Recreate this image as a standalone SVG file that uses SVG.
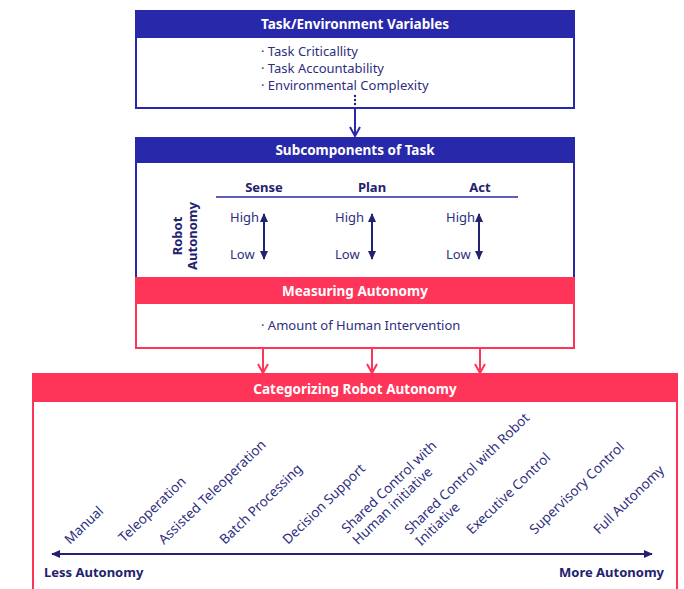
<svg xmlns="http://www.w3.org/2000/svg" width="684" height="589" viewBox="0 0 684 589">
  <style>
    .hdr-blue { fill: #2828aa; }
    .hdr-red { fill: #ff3459; }
    .box-blue { fill: #ffffff; stroke: #2828aa; stroke-width: 2; }
    .box-red { fill: #ffffff; stroke: #ff3459; stroke-width: 2; }
    .hdr-text { font-family: "Noto Sans", "Liberation Sans", sans-serif; font-size: 13.5px; font-weight: bold; fill: #ffffff; text-anchor: middle; }
    .body { font-family: "Noto Sans", "Liberation Sans", sans-serif; font-size: 13px; fill: #2e2e7e; }
    .col { font-family: "Noto Sans", "Liberation Sans", sans-serif; font-size: 13px; font-weight: bold; fill: #22226e; text-anchor: middle; }
    .axis-label { font-family: "Noto Sans", "Liberation Sans", sans-serif; font-size: 13px; font-weight: bold; fill: #22226e; }
    .cat { font-family: "Noto Sans", "Liberation Sans", sans-serif; font-size: 13.5px; fill: #2e2e7e; }
    .navy-line { stroke: #22226e; stroke-width: 2; fill: none; }
    .blue-link { stroke: #2828aa; stroke-width: 2; fill: none; }
    .red-link { stroke: #ff3459; stroke-width: 2; fill: none; }
  </style>
  <defs>
    <marker id="vBlue" viewBox="0 0 12 12" refX="10" refY="6" markerWidth="12" markerHeight="12" markerUnits="userSpaceOnUse" orient="auto">
      <path d="M1,1 L10,6 L1,11" fill="none" stroke="#2828aa" stroke-width="2"/>
    </marker>
    <marker id="vRed" viewBox="0 0 12 12" refX="10" refY="6" markerWidth="12" markerHeight="12" markerUnits="userSpaceOnUse" orient="auto">
      <path d="M1,1 L10,6 L1,11" fill="none" stroke="#ff3459" stroke-width="2"/>
    </marker>
    <marker id="triNavy" viewBox="0 0 10 10" refX="9" refY="5" markerWidth="9" markerHeight="9" markerUnits="userSpaceOnUse" orient="auto-start-reverse">
      <path d="M0,0.5 L10,5 L0,9.5 Z" fill="#22226e"/>
    </marker>
  </defs>

  <!-- Task / environment variables -->
  <g id="task-env">
    <rect class="box-blue" x="136" y="11" width="438" height="97"/>
    <rect class="hdr-blue" x="135" y="10" width="440" height="28"/>
    <text class="hdr-text" x="355" y="29">Task/Environment Variables</text>
    <text class="body" x="261" y="56">· Task Criticallity</text>
    <text class="body" x="261" y="73">· Task Accountability</text>
    <text class="body" x="261" y="90">· Environmental Complexity</text>
    <g fill="#22226e">
      <circle cx="355" cy="96" r="1.2"/>
      <circle cx="355" cy="100" r="1.2"/>
      <circle cx="355" cy="104" r="1.2"/>
    </g>
  </g>

  <!-- Subcomponents of task -->
  <g id="subcomponents">
    <rect class="box-blue" x="136" y="138" width="438" height="140"/>
    <rect class="hdr-blue" x="135" y="137" width="440" height="26"/>
    <text class="hdr-text" x="355" y="155">Subcomponents of Task</text>
    <text class="col" x="264" y="192">Sense</text>
    <text class="col" x="372" y="192">Plan</text>
    <text class="col" x="480" y="192">Act</text>
    <line x1="216" y1="197" x2="518" y2="197" stroke="#2828aa" stroke-width="1.5"/>
    <g transform="translate(0,236) rotate(-90)">
      <text class="col" x="0" y="182">Robot</text>
      <text class="col" x="0" y="197">Autonomy</text>
    </g>
    <text class="body" x="230" y="222">High</text>
    <text class="body" x="230" y="259">Low</text>
    <line class="navy-line" x1="264" y1="214" x2="264" y2="259" marker-start="url(#triNavy)" marker-end="url(#triNavy)"/>
    <text class="body" x="335" y="222">High</text>
    <text class="body" x="335" y="259">Low</text>
    <line class="navy-line" x1="372" y1="214" x2="372" y2="259" marker-start="url(#triNavy)" marker-end="url(#triNavy)"/>
    <text class="body" x="446" y="222">High</text>
    <text class="body" x="446" y="259">Low</text>
    <line class="navy-line" x1="479" y1="214" x2="479" y2="259" marker-start="url(#triNavy)" marker-end="url(#triNavy)"/>
  </g>

  <!-- Measuring autonomy -->
  <g id="measuring">
    <rect class="box-red" x="136" y="278" width="438" height="70"/>
    <rect class="hdr-red" x="135" y="277" width="440" height="27"/>
    <text class="hdr-text" x="355" y="296">Measuring Autonomy</text>
    <text class="body" x="261" y="330">· Amount of Human Intervention</text>
  </g>

  <!-- Categorizing robot autonomy -->
  <g id="categorizing">
    <rect class="box-red" x="33" y="374" width="644" height="230"/>
    <rect class="hdr-red" x="32" y="373" width="646" height="29"/>
    <text class="hdr-text" x="355" y="394">Categorizing Robot Autonomy</text>
    <text class="cat" transform="translate(70,545) rotate(-44)">Manual</text>
    <text class="cat" transform="translate(124,543) rotate(-44)">Teleoperation</text>
    <text class="cat" transform="translate(164,545) rotate(-44)">Assisted Teleoperation</text>
    <text class="cat" transform="translate(225,545) rotate(-44)">Batch Processing</text>
    <text class="cat" transform="translate(288,545) rotate(-44)">Decision Support</text>
    <text class="cat" transform="translate(347,534) rotate(-44)">Shared Control with<tspan x="0" dy="16">Human initiative</tspan></text>
    <text class="cat" transform="translate(410,535) rotate(-44)">Shared Control with Robot<tspan x="0" dy="16">Initiative</tspan></text>
    <text class="cat" transform="translate(472,535) rotate(-44)">Executive Control</text>
    <text class="cat" transform="translate(535,535) rotate(-44)">Supervisory Control</text>
    <text class="cat" transform="translate(599,535) rotate(-44)">Full Autonomy</text>
    <line class="navy-line" x1="52" y1="554" x2="652" y2="554" marker-start="url(#triNavy)" marker-end="url(#triNavy)"/>
    <text class="axis-label" x="44" y="577">Less Autonomy</text>
    <text class="axis-label" x="664" y="577" text-anchor="end">More Autonomy</text>
  </g>

  <!-- Connectors -->
  <g id="connectors">
    <line class="blue-link" x1="355" y1="109" x2="355" y2="136" marker-end="url(#vBlue)"/>
    <line class="red-link" x1="263" y1="349" x2="263" y2="373" marker-end="url(#vRed)"/>
    <line class="red-link" x1="372" y1="349" x2="372" y2="373" marker-end="url(#vRed)"/>
    <line class="red-link" x1="480" y1="349" x2="480" y2="373" marker-end="url(#vRed)"/>
  </g>
</svg>
